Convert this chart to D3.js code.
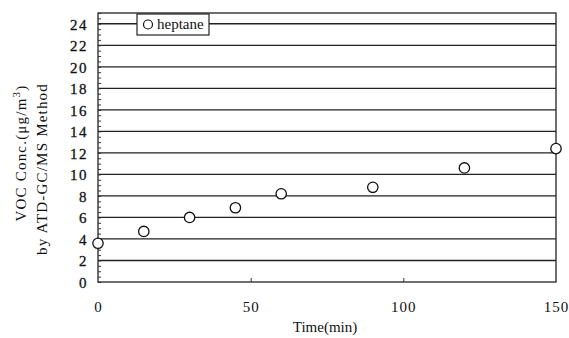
<!DOCTYPE html>
<html>
<head>
<meta charset="utf-8">
<script src="https://cdn.jsdelivr.net/npm/d3@7"></script>
<style>
  body { margin: 0; background: #fff; }
  text { font-family: "Liberation Serif", "Times New Roman", serif; fill: #111; }
</style>
</head>
<body>
<div id="chart"></div>
<script>
// values
var times = [0, 15, 30, 45, 60, 90, 120, 150];
var conc = [3.6, 4.7, 6.0, 6.9, 8.2, 8.8, 10.6, 12.4];
var xTicks = [0, 50, 100, 150];
var yTicks = [0, 2, 4, 6, 8, 10, 12, 14, 16, 18, 20, 22, 24];
var seriesName = "heptane";

var margin = {top: 13, right: 13, bottom: 56, left: 98};
var width = 569 - margin.left - margin.right;
var height = 338 - margin.top - margin.bottom;

var svg = d3.select("#chart").append("svg")
    .attr("width", 569)
    .attr("height", 338)
    .append("g")
    .attr("transform", "translate(" + margin.left + "," + margin.top + ")");

var x = d3.scaleLinear().domain([0, 150]).range([0, width]);
var y = d3.scaleLinear().domain([0, 25]).range([height, 0]);

// grid lines
svg.selectAll(".grid")
    .data(yTicks.filter(function(d) { return d > 0; }))
    .enter().append("line")
    .attr("class", "grid")
    .attr("x1", 0).attr("x2", width)
    .attr("y1", function(d) { return y(d); })
    .attr("y2", function(d) { return y(d); })
    .attr("stroke", "#222")
    .attr("stroke-width", 1.3);

// frame
svg.append("rect")
    .attr("width", width).attr("height", height)
    .attr("fill", "none").attr("stroke", "#222").attr("stroke-width", 1.3);

// y axis: labels and minor ticks
var yAxis = d3.axisLeft(y).tickValues(yTicks).tickSize(0).tickPadding(10);
svg.append("g").call(yAxis)
    .attr("font-family", "'Liberation Serif', serif")
    .attr("font-size", 15)
    .call(function(g) { g.select(".domain").remove(); })
    .selectAll("text")
    .attr("letter-spacing", "1.5px")
    .attr("dy", "0.36em")
    .attr("stroke", "#111").attr("stroke-width", 0.3);

svg.append("g")
    .call(d3.axisRight(y).tickValues(d3.range(0, 25.1, 0.5)).tickSize(3).tickFormat(""))
    .call(function(g) { g.select(".domain").remove(); })
    .selectAll("line").attr("stroke", "#333");

// x axis
var xAxis = d3.axisBottom(x).tickValues(xTicks).tickSize(0).tickPadding(19);
svg.append("g")
    .attr("transform", "translate(0," + height + ")")
    .call(xAxis)
    .attr("font-family", "'Liberation Serif', serif")
    .attr("font-size", 15)
    .call(function(g) { g.select(".domain").remove(); })
    .selectAll("text")
    .attr("letter-spacing", "1px");

svg.append("g")
    .attr("transform", "translate(0," + height + ")")
    .call(d3.axisTop(x).tickValues([50, 100]).tickSize(4).tickFormat(""))
    .call(function(g) { g.select(".domain").remove(); })
    .selectAll("line").attr("stroke", "#333");

// axis titles
svg.append("text")
    .attr("x", width / 2 - 2)
    .attr("y", height + 50)
    .attr("text-anchor", "middle")
    .style("font-size", "15px")
    .text("Time(min)");

var yTitle = svg.append("text")
    .attr("transform", "translate(" + (-72) + "," + 140 + ") rotate(-90)")
    .attr("text-anchor", "middle")
    .attr("letter-spacing", "1.2px")
    .style("font-size", "15px");
yTitle.append("tspan").text("VOC  Conc.(\u03bcg/m");
yTitle.append("tspan").attr("dy", -6).style("font-size", "11px").text("3");
yTitle.append("tspan").attr("dy", 6).text(")");

svg.append("text")
    .attr("transform", "translate(" + (-51) + "," + 156 + ") rotate(-90)")
    .attr("text-anchor", "middle")
    .attr("letter-spacing", "1.2px")
    .style("font-size", "15px")
    .text("by ATD-GC/MS Method");

// points
svg.selectAll(".pt")
    .data(times)
    .enter().append("circle")
    .attr("class", "pt")
    .attr("cx", function(d) { return x(d); })
    .attr("cy", function(d, i) { return y(conc[i]); })
    .attr("r", 5.2)
    .attr("fill", "#fff")
    .attr("stroke", "#111")
    .attr("stroke-width", 1.3);

// legend
var legend = svg.append("g").attr("transform", "translate(39,1)");
legend.append("rect")
    .attr("width", 72).attr("height", 21)
    .attr("fill", "#fff").attr("stroke", "#222").attr("stroke-width", 1.2);
legend.append("circle")
    .attr("cx", 11).attr("cy", 10.5).attr("r", 4.5)
    .attr("fill", "#fff").attr("stroke", "#111").attr("stroke-width", 1.2);
legend.append("text")
    .attr("x", 20).attr("y", 15)
    .style("font-size", "15px")
    .text(seriesName);
</script>
</body>
</html>
